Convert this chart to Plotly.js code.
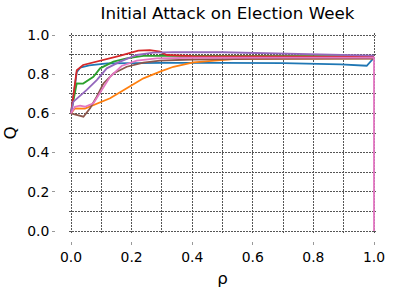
<!DOCTYPE html>
<html>
<head>
<meta charset="utf-8">
<script src="https://cdn.plot.ly/plotly-3.0.1.min.js"></script>
<style>html,body{margin:0;padding:0;background:#fff;}#chart{width:399px;height:289px;}</style>
</head>
<body>
<div id="chart"></div>
<script>
const titleText = "Initial Attack on Election Week";
const xLabel = "ρ";
const yLabel = "Q";
const tickVals = [0, 0.2, 0.4, 0.6, 0.8, 1.0];
const tickText = ["0.0", "0.2", "0.4", "0.6", "0.8", "1.0"];

const blueX = [0, 0.019, 0.03, 0.06, 0.12, 0.2, 0.3, 0.5, 0.7, 0.89, 0.976, 1.0];
const blueY = [0.60, 0.81, 0.833, 0.845, 0.855, 0.857, 0.858, 0.858, 0.856, 0.85, 0.843, 0.884];
const orangeX = [0, 0.013, 0.046, 0.074, 0.129, 0.184, 0.239, 0.294, 0.338, 0.404, 0.47, 0.536, 0.7, 1.0];
const orangeY = [0.60, 0.626, 0.624, 0.643, 0.677, 0.728, 0.779, 0.813, 0.838, 0.86, 0.87, 0.877, 0.88, 0.881];
const greenX = [0, 0.019, 0.04, 0.074, 0.096, 0.14, 0.184, 0.239, 0.3, 0.5, 1.0];
const greenY = [0.60, 0.753, 0.752, 0.787, 0.83, 0.864, 0.881, 0.893, 0.894, 0.893, 0.892];
const redX = [0, 0.019, 0.04, 0.107, 0.16, 0.222, 0.26, 0.294, 0.316, 0.4, 0.7, 1.0];
const redY = [0.60, 0.82, 0.847, 0.872, 0.894, 0.92, 0.923, 0.915, 0.898, 0.892, 0.89, 0.888];
const purpleX = [0, 0.008, 0.024, 0.052, 0.085, 0.118, 0.162, 0.217, 0.272, 0.338, 0.5, 0.56, 0.8, 1.0];
const purpleY = [0.60, 0.66, 0.682, 0.72, 0.77, 0.83, 0.864, 0.898, 0.91, 0.913, 0.912, 0.91, 0.9, 0.895];
const brownX = [0, 0.02, 0.041, 0.063, 0.085, 0.107, 0.14, 0.184, 0.239, 0.294, 0.4, 0.6, 1.0];
const brownY = [0.60, 0.59, 0.583, 0.626, 0.685, 0.753, 0.804, 0.838, 0.859, 0.869, 0.875, 0.878, 0.88];
const pinkX = [0, 0.013, 0.03, 0.046, 0.074, 0.101, 0.129, 0.167, 0.217, 0.283, 0.4, 0.7, 1.0, 1.0];
const pinkY = [0.60, 0.634, 0.64, 0.634, 0.652, 0.72, 0.787, 0.842, 0.869, 0.881, 0.884, 0.885, 0.885, 0.0];

const series = [
  [blueX, blueY, "#1f77b4"],
  [orangeX, orangeY, "#ff7f0e"],
  [greenX, greenY, "#2ca02c"],
  [redX, redY, "#d62728"],
  [purpleX, purpleY, "#9467bd"],
  [brownX, brownY, "#8c564b"],
  [pinkX, pinkY, "#e377c2"]
];
const traces = series.map(s => ({
  x: s[0], y: s[1], type: "scatter", mode: "lines",
  line: {color: s[2], width: 1.8}, showlegend: false, hoverinfo: "skip"
}));

const ex = 0.0066, ey = 0.0102;
const xRange = [-ex, 1 + ex], yRange = [-ey, 1 + ey];
const gridStyle = {showgrid: true, gridcolor: "#555", gridwidth: 1, griddash: "2px,1px"};
const font = {family: "DejaVu Sans", color: "#000"};
const gridAxis = Object.assign({
  tickmode: "linear", tick0: 0, dtick: 0.1,
  ticks: "", showticklabels: false, showline: false, zeroline: false
}, gridStyle);
const layout = {
  width: 399, height: 289,
  margin: {l: 55, r: 23, t: 33, b: 48},
  paper_bgcolor: "#fff", plot_bgcolor: "#fff",
  font: Object.assign({size: 13.9}, font),
  title: {text: titleText, font: Object.assign({size: 16.7}, font), x: 227.5/399, xref: "container", xanchor: "center", y: 1 - 13/289, yref: "container", yanchor: "middle"},
  xaxis: {
    domain: [14/321, 1], anchor: "free", position: 0,
    range: xRange, tickvals: tickVals, ticktext: tickText,
    ticks: "outside", ticklen: 3, tickcolor: "#999", tickwidth: 1,
    showline: false, zeroline: false, showgrid: false,
    title: {text: xLabel, font: Object.assign({size: 16.7}, font), standoff: 8},
    automargin: false
  },
  yaxis: {
    domain: [8/208, 1], anchor: "free", position: 0,
    range: yRange, tickvals: tickVals, ticktext: tickText,
    ticks: "outside", ticklen: 3, tickcolor: "#999", tickwidth: 1,
    showline: false, zeroline: false, showgrid: false,
    title: {text: yLabel, font: Object.assign({size: 16.7}, font), standoff: 7},
    automargin: false
  },
  xaxis2: Object.assign({overlaying: "x", anchor: "y2", range: xRange}, gridAxis),
  yaxis2: Object.assign({overlaying: "y", anchor: "x2", range: yRange}, gridAxis)
};
const gridTrace = {x: [0], y: [0], xaxis: "x2", yaxis: "y2", type: "scatter", mode: "none", showlegend: false, hoverinfo: "skip"};
Plotly.newPlot("chart", [gridTrace].concat(traces), layout, {displayModeBar: false});
</script>
</body>
</html>
